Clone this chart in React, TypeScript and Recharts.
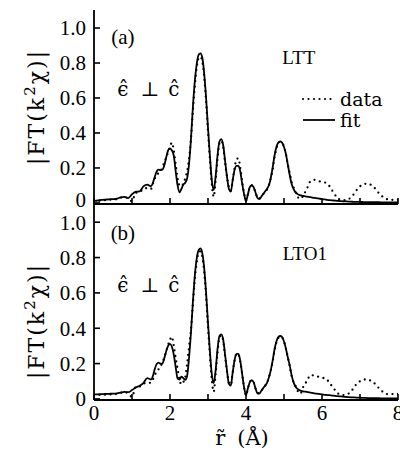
import React from "react";
import { LineChart, Line, XAxis, YAxis, ReferenceDot, Legend } from "recharts";

const SERIF = "'Liberation Serif', 'Times New Roman', serif";
const WIDE = "'DejaVu Serif', serif";

// r grid (Å): 0.1 steps at the ends, 0.05 steps through the peaks
const rGrid = [
  0, 0.1, 0.2, 0.3, 0.4, 0.5, 0.6, 0.7, 0.8, 0.9, 1.0, 1.1, 1.2, 1.3, 1.4,
  1.5, 1.55, 1.6, 1.65, 1.7, 1.75, 1.8, 1.85, 1.9, 1.95,
  2.0, 2.05, 2.1, 2.15, 2.2, 2.25, 2.3, 2.35, 2.4, 2.45,
  2.5, 2.55, 2.6, 2.65, 2.7, 2.75, 2.8, 2.85, 2.9, 2.95,
  3.0, 3.05, 3.1, 3.15, 3.2, 3.25, 3.3, 3.35, 3.4, 3.45,
  3.5, 3.55, 3.6, 3.65, 3.7, 3.75, 3.8, 3.85, 3.9, 3.95,
  4.0, 4.05, 4.1, 4.15, 4.2, 4.25, 4.3, 4.35, 4.4, 4.45,
  4.5, 4.55, 4.6, 4.65, 4.7, 4.75, 4.8, 4.85, 4.9, 4.95,
  5.0, 5.05, 5.1, 5.15, 5.2, 5.25, 5.3, 5.35, 5.4, 5.45,
  5.5, 5.6, 5.7, 5.8, 5.9, 6.0, 6.1, 6.2, 6.3, 6.4, 6.5, 6.6, 6.7,
  6.8, 6.9, 7.0, 7.1, 7.2, 7.3, 7.4, 7.5, 7.6, 7.7, 7.8, 7.9, 8.0,
];

// panel (a) LTT
const fitA = [
  0.012, 0.014, 0.017, 0.019, 0.021, 0.022, 0.024, 0.032, 0.035, 0.028, 0.05, 0.064, 0.066, 0.095, 0.105,
  0.095, 0.115, 0.15, 0.18, 0.19, 0.188, 0.19, 0.215, 0.26, 0.3,
  0.312, 0.3, 0.27, 0.18, 0.1, 0.06, 0.08, 0.105, 0.115, 0.14,
  0.22, 0.36, 0.54, 0.69, 0.79, 0.845, 0.855, 0.83, 0.74, 0.6,
  0.43, 0.27, 0.13, 0.075, 0.15, 0.27, 0.35, 0.365, 0.33, 0.24,
  0.15, 0.08, 0.065, 0.13, 0.19, 0.212, 0.212, 0.18, 0.11, 0.05,
  0.01, 0.05, 0.09, 0.102, 0.09, 0.06, 0.03, 0.022, 0.035, 0.05,
  0.065, 0.08, 0.1, 0.14, 0.2, 0.27, 0.32, 0.345, 0.352, 0.345,
  0.32, 0.28, 0.22, 0.16, 0.11, 0.08, 0.062, 0.052, 0.046, 0.043,
  0.04, 0.036, 0.033, 0.029, 0.026, 0.022, 0.019, 0.016, 0.014, 0.012, 0.01, 0.009, 0.008,
  0.007, 0.006, 0.006, 0.005, 0.005, 0.004, 0.004, 0.004, 0.003, 0.003, 0.003, 0.003, 0.003,
];
const dataA = [
  0.01, 0.012, 0.014, 0.016, 0.018, 0.02, 0.022, 0.03, 0.034, 0.025, 0.01, 0.058, 0.062, 0.08, 0.085,
  0.08, 0.11, 0.14, 0.16, 0.17, 0.18, 0.205, 0.23, 0.26, 0.29,
  0.32, 0.345, 0.3, 0.22, 0.14, 0.1, 0.095, 0.11, 0.14, 0.18,
  0.25, 0.36, 0.52, 0.66, 0.77, 0.825, 0.835, 0.81, 0.72, 0.58,
  0.41, 0.25, 0.11, 0.035, 0.13, 0.25, 0.34, 0.355, 0.32, 0.23,
  0.15, 0.09, 0.07, 0.13, 0.2, 0.25, 0.255, 0.2, 0.12, 0.055,
  0.015, 0.05, 0.09, 0.1, 0.09, 0.06, 0.03, 0.025, 0.035, 0.05,
  0.062, 0.075, 0.1, 0.14, 0.19, 0.26, 0.31, 0.34, 0.35, 0.345,
  0.32, 0.28, 0.22, 0.17, 0.12, 0.09, 0.065, 0.04, 0.025, 0.025,
  0.04, 0.08, 0.125, 0.132, 0.125, 0.12, 0.115, 0.095, 0.06, 0.03, 0.017, 0.016, 0.022,
  0.04, 0.07, 0.095, 0.108, 0.11, 0.102, 0.082, 0.055, 0.035, 0.022, 0.018, 0.018, 0.018,
];

// panel (b) LTO1
const fitB = [
  0.025, 0.026, 0.027, 0.028, 0.029, 0.03, 0.032, 0.036, 0.04, 0.038, 0.05, 0.065, 0.075, 0.09, 0.118,
  0.11, 0.13, 0.17, 0.198, 0.205, 0.2, 0.2, 0.23, 0.27, 0.3,
  0.312, 0.295, 0.25, 0.18, 0.115, 0.11, 0.126, 0.118, 0.108, 0.13,
  0.23, 0.37, 0.54, 0.69, 0.79, 0.84, 0.852, 0.825, 0.74, 0.6,
  0.43, 0.27, 0.14, 0.09, 0.16, 0.28, 0.355, 0.365, 0.335, 0.25,
  0.16, 0.085, 0.075, 0.15, 0.22, 0.255, 0.255, 0.215, 0.14, 0.065,
  0.022, 0.06, 0.095, 0.107, 0.095, 0.06, 0.032, 0.03, 0.045, 0.06,
  0.075, 0.09, 0.12, 0.16, 0.215, 0.28, 0.325, 0.35, 0.356, 0.35,
  0.325, 0.285, 0.235, 0.19, 0.135, 0.095, 0.07, 0.058, 0.05, 0.046,
  0.043, 0.04, 0.036, 0.032, 0.029, 0.026, 0.023, 0.021, 0.019, 0.016, 0.014, 0.012, 0.01,
  0.009, 0.008, 0.007, 0.006, 0.005, 0.005, 0.004, 0.004, 0.003, 0.003, 0.003, 0.003, 0.003,
];
const dataB = [
  0.022, 0.023, 0.024, 0.024, 0.025, 0.026, 0.028, 0.034, 0.04, 0.03, 0.012, 0.068, 0.07, 0.088, 0.09,
  0.092, 0.11, 0.135, 0.155, 0.168, 0.185, 0.205, 0.235, 0.27, 0.305,
  0.335, 0.352, 0.3, 0.23, 0.17, 0.11, 0.082, 0.095, 0.12, 0.2,
  0.29, 0.39, 0.53, 0.67, 0.77, 0.825, 0.835, 0.805, 0.72, 0.58,
  0.41, 0.25, 0.11, 0.04, 0.14, 0.26, 0.345, 0.36, 0.33, 0.24,
  0.155, 0.09, 0.08, 0.15, 0.22, 0.255, 0.252, 0.21, 0.14, 0.065,
  0.02, 0.06, 0.095, 0.105, 0.095, 0.06, 0.035, 0.032, 0.045, 0.06,
  0.072, 0.09, 0.12, 0.16, 0.21, 0.275, 0.32, 0.345, 0.352, 0.348,
  0.325, 0.285, 0.235, 0.185, 0.13, 0.095, 0.075, 0.05, 0.03, 0.035,
  0.065, 0.1, 0.135, 0.132, 0.126, 0.12, 0.115, 0.09, 0.062, 0.035, 0.023, 0.022, 0.03,
  0.052, 0.082, 0.1, 0.11, 0.11, 0.1, 0.085, 0.06, 0.04, 0.028, 0.027, 0.028, 0.028,
];

const yTicks = [0, 0.2, 0.4, 0.6, 0.8, 1.0];
const rTicks = [0, 1, 2, 3, 4, 5, 6, 7, 8];
const rLabelled = [0, 2, 4, 6, 8];
const yDomain = [-0.006, 1.103];

const rowsA = rGrid.map((r, i) => ({ r, data: dataA[i], fit: fitA[i] }));
const rowsB = rGrid.map((r, i) => ({ r, data: dataB[i], fit: fitB[i] }));

const TICK = 6;
const INK = "#000";

const LeftTick = (props: any) => {
  const { x, y, payload, lift } = props;
  const v = payload.value;
  const up = v === 0 && lift ? 3 : 0;
  return (
    <g>
      <line x1={x + 8} x2={x + 8 + TICK} y1={y} y2={y} stroke={INK} strokeWidth={1.6} />
      <text x={x} y={y - up} dy="0.35em" textAnchor="end" fontFamily={SERIF} fontSize={21} fill={INK}>
        {v === 0 ? "0" : v.toFixed(1)}
      </text>
    </g>
  );
};

const RightTick = (props: any) => {
  const { x, y } = props;
  return <line x1={x} x2={x - TICK} y1={y} y2={y} stroke={INK} strokeWidth={1.6} />;
};

const TopTick = (props: any) => {
  const { x, y } = props;
  return <line x1={x} x2={x} y1={y} y2={y + TICK} stroke={INK} strokeWidth={1.6} />;
};

const BottomTick = (props: any) => {
  const { x, y, payload, showLabel } = props;
  return (
    <g>
      <line x1={x} x2={x} y1={y} y2={y - TICK} stroke={INK} strokeWidth={1.6} />
      {showLabel && rLabelled.includes(payload.value) && (
        <text x={x} y={y + 20} textAnchor="middle" fontFamily={SERIF} fontSize={21} fill={INK}>
          {payload.value}
        </text>
      )}
    </g>
  );
};

const YTitle = (props: any) => {
  const { viewBox, shift } = props;
  const cx = viewBox.x + 36;
  const cy = viewBox.y + viewBox.height / 2 + shift;
  return (
    <text
      transform={`rotate(-90 ${cx} ${cy})`}
      x={cx}
      y={cy}
      dy="0.35em"
      textAnchor="middle"
      fontFamily={WIDE}
      fontSize={22}
      letterSpacing={2}
      fill={INK}
    >
      |FT(k<tspan dy={-9} fontSize={15}>2</tspan>
      <tspan dy={9}>χ)|</tspan>
    </text>
  );
};

const XTitle = (props: any) => {
  const { viewBox } = props;
  const cx = viewBox.x + viewBox.width / 2 - 4;
  return (
    <text x={cx} y={viewBox.y + 45} textAnchor="middle" fontFamily={WIDE} fontSize={21} fill={INK}>
      {"r\u0303"}
      <tspan dx={12}>(Å)</tspan>
    </text>
  );
};

const Note = (props: any) => {
  const vb = props.viewBox ?? props;
  const { text, size = 20, family = SERIF } = props;
  return (
    <text x={vb.x + (vb.width || 0) / 2} y={vb.y + (vb.height || 0) / 2} textAnchor="middle" fontFamily={family} fontSize={size} fill={INK}>
      {text}
    </text>
  );
};

const PerpNote = (props: any) => {
  const vb = props.viewBox ?? props;
  const x = vb.x + (vb.width || 0) / 2;
  const y = vb.y + (vb.height || 0) / 2;
  const common = { textAnchor: "middle" as const, fontFamily: WIDE, fontSize: 20, fill: INK };
  return (
    <g>
      <text x={x - 27} y={y} {...common}>{"\u03f5\u0302"}</text>
      <text x={x} y={y} {...common}>⊥</text>
      <text x={x + 24} y={y} {...common}>{"c\u0302"}</text>
    </g>
  );
};

const LegendBox = () => (
  <svg width={100} height={45} style={{ display: "block" }}>
    <line x1={3} x2={35} y1={11} y2={11} stroke={INK} strokeWidth={2.2} strokeDasharray="0 5.5" strokeLinecap="round" />
    <text x={40} y={18} fontFamily={WIDE} fontSize={19} fill={INK}>data</text>
    <line x1={3} x2={35} y1={32} y2={32} stroke={INK} strokeWidth={1.8} />
    <text x={40} y={39} fontFamily={WIDE} fontSize={19} fill={INK}>fit</text>
  </svg>
);

const axisLine = { stroke: INK, strokeWidth: 1.8 };

const Panel = ({ rows, tag, sample, labelShift, bottom, legend }: any) => (
  <LineChart
    width={400}
    height={bottom ? 257 : 215}
    data={rows}
    margin={{ top: 10, right: 2, left: 0, bottom: bottom ? 0 : 10 }}
  >
    <XAxis
      xAxisId="b"
      dataKey="r"
      type="number"
      domain={[0, 8]}
      ticks={rTicks}
      interval={0}
      allowDataOverflow
      height={bottom ? 51 : 1}
      tickSize={0}
      tickMargin={0}
      tickLine={false}
      axisLine={axisLine}
      tick={<BottomTick showLabel={bottom} />}
      label={bottom ? <XTitle /> : undefined}
    />
    <XAxis
      xAxisId="t"
      orientation="top"
      dataKey="r"
      type="number"
      domain={[0, 8]}
      ticks={rTicks}
      interval={0}
      allowDataOverflow
      height={0}
      tickSize={0}
      tickMargin={0}
      tickLine={false}
      axisLine={axisLine}
      tick={<TopTick />}
    />
    <YAxis
      yAxisId="l"
      width={94}
      type="number"
      domain={yDomain}
      ticks={yTicks}
      interval={0}
      allowDataOverflow
      tickSize={0}
      tickMargin={8}
      tickLine={false}
      axisLine={axisLine}
      tick={<LeftTick lift={!bottom} />}
      label={<YTitle shift={labelShift} />}
    />
    <YAxis
      yAxisId="rt"
      orientation="right"
      width={0}
      type="number"
      domain={yDomain}
      ticks={yTicks}
      interval={0}
      allowDataOverflow
      tickSize={0}
      tickMargin={0}
      tickLine={false}
      axisLine={axisLine}
      tick={<RightTick />}
    />
    {legend && (
      <Legend
        layout="horizontal"
        align="center"
        verticalAlign="middle"
        wrapperStyle={{ left: 300, top: 88, width: 100, height: 45 }}
        content={<LegendBox />}
      />
    )}
    <Line
      xAxisId="b"
      yAxisId="l"
      type="monotone"
      dataKey="data"
      stroke={INK}
      strokeWidth={2.3}
      strokeDasharray="0 5.5"
      strokeLinecap="round"
      dot={false}
      isAnimationActive={false}
    />
    <Line
      xAxisId="t"
      yAxisId="rt"
      type="monotone"
      dataKey="fit"
      stroke={INK}
      strokeWidth={1.8}
      dot={false}
      isAnimationActive={false}
    />
    <ReferenceDot xAxisId="b" yAxisId="l" x={0.76} y={bottom ? 0.901 : 0.906} r={0} fill="none" stroke="none" label={<Note text={tag} size={21} />} />
    <ReferenceDot xAxisId="b" yAxisId="l" x={bottom ? 5.55 : 5.39} y={bottom ? 0.785 : 0.794} r={0} fill="none" stroke="none" label={<Note text={sample} size={19} />} />
    <ReferenceDot xAxisId="b" yAxisId="l" x={1.47} y={bottom ? 0.605 : 0.611} r={0} fill="none" stroke="none" label={<PerpNote />} />
  </LineChart>
);

export default function App() {
  return (
    <div style={{ position: "absolute", left: 0, top: 0, width: 400, height: 451, background: "#fff" }}>
      <div style={{ position: "absolute", left: 0, top: 0 }}>
        <Panel rows={rowsA} tag="(a)" sample="LTT" labelShift={0} bottom={false} legend />
      </div>
      <div style={{ position: "absolute", left: 0, top: 194 }}>
        <Panel rows={rowsB} tag="(b)" sample="LTO1" labelShift={19} bottom legend={false} />
      </div>
    </div>
  );
}
